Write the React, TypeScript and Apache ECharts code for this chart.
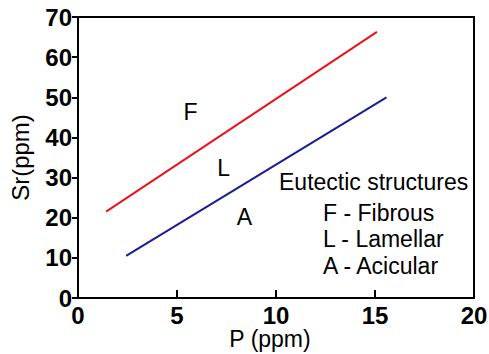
import React, { useEffect, useRef } from "react";
import * as echarts from "echarts";

const xTicks = { min: 0, max: 20, interval: 5 };
const yTicks = { min: 0, max: 70, interval: 10 };
const redLine: [number, number][] = [
  [1.42, 21.5],
  [15.1, 66.3],
];
const blueLine: [number, number][] = [
  [2.43, 10.5],
  [15.58, 50.0],
];
const regionLabels = ["F", "L", "A"];
const regionPoints: [number, number][] = [
  [5.68, 46.4],
  [7.36, 32.3],
  [8.41, 20.3],
];
const legendTitle = "Eutectic structures";
const legendItems = ["F - Fibrous", "L - Lamellar", "A - Acicular"];

const FONT = "'Liberation Sans', Arial, Helvetica, sans-serif";

export default function App() {
  const ref = useRef<HTMLDivElement>(null);
  useEffect(() => {
    if (!ref.current) return;
    const chart = echarts.init(ref.current, undefined, { renderer: "svg" });
    chart.setOption({
      animation: false,
      backgroundColor: "#fff",
      textStyle: { fontFamily: FONT },
      grid: {
        left: 78,
        right: 15,
        top: 17,
        bottom: 56,
        show: true,
        borderColor: "#000",
        borderWidth: 2,
        containLabel: false,
        outerBoundsMode: "none",
      },
      xAxis: {
        type: "value",
        min: xTicks.min,
        max: xTicks.max,
        interval: xTicks.interval,
        name: "P (ppm)",
        nameLocation: "middle",
        nameGap: 30,
        nameMoveOverlap: false,
        nameTextStyle: {
          fontSize: 23,
          lineHeight: 22,
          color: "#000",
          fontFamily: FONT,
          padding: [0, 12, 0, 0],
        },
        axisLine: { show: true, lineStyle: { color: "#000", width: 2 } },
        axisTick: { show: true, inside: true, length: 8, lineStyle: { color: "#000", width: 2 } },
        axisLabel: {
          fontSize: 24,
          lineHeight: 20,
          fontWeight: "bold",
          color: "#000",
          margin: 7,
          fontFamily: FONT,
        },
        splitLine: { show: false },
      },
      yAxis: {
        type: "value",
        min: yTicks.min,
        max: yTicks.max,
        interval: yTicks.interval,
        name: "Sr(ppm)",
        nameLocation: "middle",
        nameGap: 46,
        nameMoveOverlap: false,
        nameTextStyle: { fontSize: 24, color: "#000", fontFamily: FONT },
        axisLine: { show: true, lineStyle: { color: "#000", width: 2 } },
        axisTick: { show: true, inside: false, length: 6, lineStyle: { color: "#000", width: 2 } },
        axisLabel: { fontSize: 24, fontWeight: "bold", color: "#000", margin: 6, fontFamily: FONT },
        splitLine: { show: false },
      },
      series: [
        {
          type: "line",
          data: redLine,
          symbol: "none",
          lineStyle: { color: "#e8141c", width: 2 },
        },
        {
          type: "line",
          data: blueLine,
          symbol: "none",
          lineStyle: { color: "#1c1c96", width: 2 },
        },
        {
          type: "scatter",
          symbolSize: 0,
          itemStyle: { color: "#000", opacity: 1 },
          data: regionPoints.map((p, i) => ({ value: p, name: regionLabels[i] })),
          label: {
            show: true,
            position: "inside",
            formatter: (p: any) => p.name,
            fontSize: 23,
            color: "#000",
            opacity: 1,
            fontFamily: FONT,
          },
        },
      ],
      graphic: [
        {
          type: "text",
          left: 279,
          top: 170,
          style: { text: legendTitle, font: `23px ${FONT}`, fill: "#000" },
        },
        ...legendItems.map((t, i) => ({
          type: "text",
          left: 323,
          top: 201 + i * 26.5,
          style: { text: t, font: `23px ${FONT}`, fill: "#000" },
        })),
      ],
    });
    return () => chart.dispose();
  }, []);
  return (
    <div
      ref={ref}
      style={{ position: "absolute", left: 0, top: 0, width: 489, height: 354 }}
    />
  );
}
